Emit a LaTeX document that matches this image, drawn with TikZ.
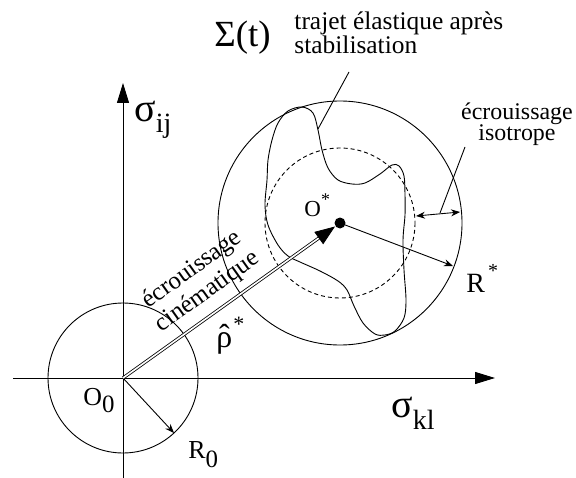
\documentclass[tikz,border=0pt]{standalone}
\usepackage{fontspec}
\setmainfont{Liberation Serif}
\usetikzlibrary{arrows.meta}
\newcommand{\lowr}[2]{\raisebox{-#1}{#2}}
\newcommand{\rhohat}{\ooalign{ρ\cr\hidewidth\raisebox{1bp}{ˆ}\hidewidth\cr}}
\begin{document}
\begin{tikzpicture}[x=1bp,y=-1bp,line width=0.9bp,
  lbl/.style={inner sep=0pt,font=\fontsize{25.5}{23}\selectfont},
  axisarrow/.style={line width=1bp,-{Triangle[length=20bp,width=12bp]}},
  thinarrow/.style={-{Stealth[length=9bp,width=7bp]}},
  twoarrow/.style={{Stealth[length=9bp,width=7bp]}-{Stealth[length=9bp,width=7bp]}}]
\useasboundingbox (0,0) rectangle (576,478);
% key points
\coordinate (O0) at (123,378);
\coordinate (Os) at (340,223);
\coordinate (xl) at (13,378);
\coordinate (xr) at (495,378);
\coordinate (yb) at (123,478);
\coordinate (yt) at (123,83);
\coordinate (R0tip) at (174,433);
\coordinate (Rstip) at (453,266);
\coordinate (rhotip) at (335,226.5);
\coordinate (isoA) at (416,216);
\coordinate (isoB) at (460,212);
\coordinate (isoP1) at (440,213);
\coordinate (isoP2) at (465,147);
\coordinate (sigP1) at (318,129);
\coordinate (sigP2) at (349,72);
% axes
\draw[axisarrow] (xl) -- (xr);
\draw[axisarrow] (yb) -- (yt);
% circles
\draw (O0) circle[radius=75];
\draw (Os) circle[radius=122];
\draw[dash pattern=on 4bp off 3bp] (Os) circle[radius=75];
% stress path
\draw plot[smooth cycle,tension=0.55] coordinates {
 (302,107) (313,113) (318,130) (322,150) (328,168) (338,180) (352,184)
 (365,183) (380,174) (392,165) (399,166) (404,176) (405,195) (405,215)
 (403,240) (404,270) (406,300) (404,318) (395,331) (385,335) (375,334)
 (363,323) (354,306) (347,290) (338,281) (320,271) (300,262) (288,256)
 (278,245) (268,225) (265,205) (267,180) (268,160) (272,140) (278,123)
 (288,111)};
% arrows
\draw[thinarrow] (O0) -- (R0tip);
\draw[thinarrow] (Os) -- (Rstip);
\draw[twoarrow] (isoA) -- (isoB);
\draw (isoP1) -- (isoP2);
\draw (sigP1) -- (sigP2);
\draw[line width=0.8bp,double,double distance=1.6bp,-{Triangle[length=20bp,width=15bp]}] (O0) -- (rhotip);
\fill (Os) circle[radius=5.5];
% labels
\node[lbl,font=\fontsize{40}{40}\selectfont,anchor=base west] (sij) at (134,122)
  {σ\lowr{11bp}{\fontsize{28}{28}\selectfont ij}};
\node[lbl,font=\fontsize{40}{40}\selectfont,anchor=base west] (skl) at (391,417)
  {σ\lowr{12bp}{\fontsize{28}{28}\selectfont kl}};
\node[lbl,font=\fontsize{37}{37}\selectfont,anchor=base west] (Sig) at (214,47) {Σ(t)};
\node[lbl,align=left,anchor=north west] (traj) at (294,11) {trajet élastique après\\stabilisation};
\node[lbl,align=center,anchor=north,font=\fontsize{24}{22}\selectfont] (iso) at (517,102) {écrouissage\\isotrope};
\node[lbl,align=center,rotate=35.5,font=\fontsize{25}{27}\selectfont] (cin) at (200,281) {écrouissage\\cinématique};
\node[lbl,font=\fontsize{23}{23}\selectfont,anchor=base west] (Oslbl) at (304,217)
  {O\raisebox{11bp}{\fontsize{18}{18}\selectfont *}};
\node[lbl,font=\fontsize{26}{26}\selectfont,anchor=base west] (O0lbl) at (83,405)
  {O\lowr{7bp}{\fontsize{25}{25}\selectfont 0}};
\node[lbl,font=\fontsize{26}{26}\selectfont,anchor=base west] (R0lbl) at (188,458)
  {R\lowr{9bp}{\fontsize{25}{25}\selectfont 0}};
\node[lbl,font=\fontsize{28}{28}\selectfont,anchor=base west] (Rslbl) at (466,292)
  {R\hspace{3bp}\raisebox{15bp}{\fontsize{20}{20}\selectfont *}};
\node[lbl,font=\fontsize{32}{32}\selectfont,anchor=base west] (rholbl) at (216,347)
  {\rhohat\hspace{1bp}\raisebox{16bp}{\fontsize{22}{22}\selectfont *}};
\end{tikzpicture}
\end{document}
